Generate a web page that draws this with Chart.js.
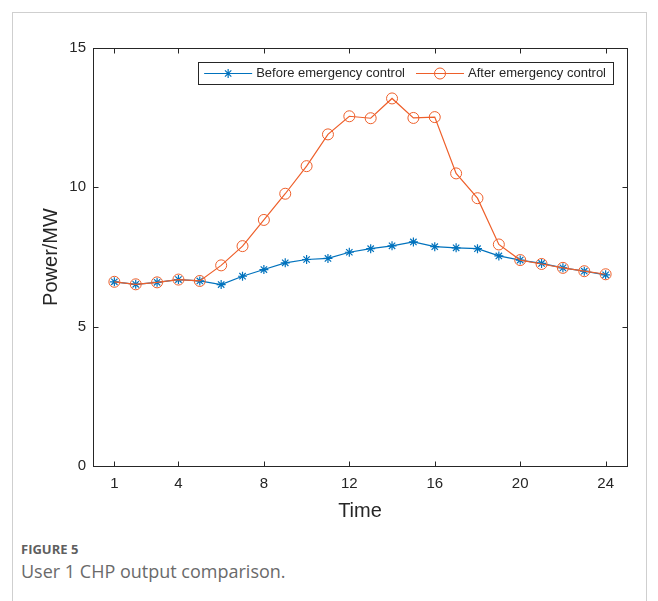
<!DOCTYPE html>
<html>
<head>
<meta charset="utf-8">
<script src="https://cdn.jsdelivr.net/npm/chart.js@4/dist/chart.umd.min.js"></script>
<style>
  html, body { margin: 0; padding: 0; background: #ffffff; }
  body { width: 658px; height: 601px; position: relative; overflow: hidden; }
  #card { position: absolute; left: 12px; top: 12px; width: 635px; height: 620px;
          border-left: 1px solid #cfcfcf; border-top: 1px solid #cfcfcf; border-right: 1px solid #cfcfcf; box-sizing: border-box; }
  #wrap { position: absolute; left: 0; top: 0; width: 658px; height: 530px; }
  #figlabel { position: absolute; left: 21px; top: 541px; font: bold 13px "Open Sans", sans-serif; line-height: 16px; color: #5f5f5f; }
  #caption { position: absolute; left: 21px; top: 560px; font: 18px "Open Sans", sans-serif; line-height: 22px; color: #6a6a6a; }
</style>
</head>
<body>
<div id="card"></div>
<div id="wrap"><canvas id="c" width="658" height="530"></canvas></div>
<div id="figlabel">FIGURE 5</div>
<div id="caption">User 1 CHP output comparison.</div>
<script>
const hours = [1,2,3,4,5,6,7,8,9,10,11,12,13,14,15,16,17,18,19,20,21,22,23,24];
const beforeControl = [6.61,6.52,6.59,6.69,6.64,6.51,6.81,7.05,7.29,7.41,7.45,7.67,7.80,7.90,8.04,7.87,7.83,7.80,7.54,7.39,7.27,7.11,6.99,6.86];
const afterControl  = [6.61,6.52,6.59,6.69,6.64,7.20,7.89,8.83,9.77,10.76,11.90,12.55,12.48,13.19,12.49,12.52,10.50,9.61,7.95,7.39,7.25,7.11,6.99,6.88];
const xTickValues = [1,4,8,12,16,20,24];
const yTickValues = [0,5,10,15];
const seriesLabels = ['Before emergency control','After emergency control'];

const BLUE = '#0072BD';
const ORANGE = '#EE5F2A';
const AXIS = '#262626';
const FONT = '"Liberation Sans", Arial, sans-serif';

const toPoints = vals => vals.map((v, i) => ({x: hours[i], y: v}));

const boxTicksPlugin = {
  id: 'boxTicks',
  afterDatasetsDraw(chart) {
    const {ctx, chartArea: a, scales: {x, y}} = chart;
    ctx.save();
    ctx.strokeStyle = AXIS;
    ctx.lineWidth = 1;
    const L = Math.round(a.left) + 0.5, R = Math.round(a.right) + 0.5;
    const T = Math.round(a.top) + 0.5, B = Math.round(a.bottom) + 0.5;
    ctx.strokeRect(L, T, R - L, B - T);
    const tl = 5;
    ctx.beginPath();
    xTickValues.forEach(v => {
      const px = Math.round(x.getPixelForValue(v)) + 0.5;
      ctx.moveTo(px, B); ctx.lineTo(px, B - tl);
      ctx.moveTo(px, T); ctx.lineTo(px, T + tl);
    });
    yTickValues.forEach(v => {
      const py = Math.round(y.getPixelForValue(v)) + 0.5;
      ctx.moveTo(L, py); ctx.lineTo(L + tl, py);
      ctx.moveTo(R, py); ctx.lineTo(R - tl, py);
    });
    ctx.stroke();
    ctx.restore();
  }
};

const legendPlugin = {
  id: 'boxLegend',
  afterDraw(chart) {
    const {ctx, chartArea: a} = chart;
    const ds = chart.data.datasets;
    ctx.save();
    ctx.font = '13px ' + FONT;
    const padL = 6, lineLen = 48, gapText = 4, gapItem = 11, padR = 7;
    const widths = ds.map(d => ctx.measureText(d.label).width);
    let total = padL;
    widths.forEach((w, i) => { total += lineLen + gapText + w + (i < ds.length - 1 ? gapItem : padR); });
    const h = 22;
    const right = a.right - 14, top = a.top + 14;
    const left = right - total;
    ctx.fillStyle = '#ffffff';
    ctx.fillRect(left, top, total, h);
    ctx.strokeStyle = AXIS;
    ctx.lineWidth = 1;
    ctx.strokeRect(Math.round(left) + 0.5, Math.round(top) + 0.5, Math.round(total), h);
    let xp = left + padL;
    const cy = top + h / 2 + 0.5;
    ds.forEach((d, i) => {
      ctx.strokeStyle = d.borderColor;
      ctx.lineWidth = d.borderWidth;
      ctx.beginPath();
      ctx.moveTo(xp, cy); ctx.lineTo(xp + lineLen, cy);
      ctx.stroke();
      ctx.strokeStyle = d.pointBorderColor;
      ctx.fillStyle = 'rgba(0,0,0,0)';
      ctx.lineWidth = d.pointBorderWidth;
      Chart.helpers.drawPoint(ctx, {pointStyle: d.pointStyle, radius: d.pointRadius, borderWidth: d.pointBorderWidth, rotation: 0}, xp + lineLen / 2, cy);
      ctx.fillStyle = AXIS;
      ctx.textBaseline = 'middle';
      ctx.textAlign = 'left';
      ctx.fillText(d.label, xp + lineLen + gapText, cy);
      xp += lineLen + gapText + widths[i] + gapItem;
    });
    ctx.restore();
  }
};

new Chart(document.getElementById('c'), {
  type: 'line',
  data: {
    datasets: [
      {
        label: seriesLabels[0],
        data: toPoints(beforeControl),
        borderColor: BLUE,
        backgroundColor: BLUE,
        borderWidth: 1.2,
        pointStyle: 'star',
        pointRadius: 4.5,
        pointBorderWidth: 1.2,
        pointBorderColor: BLUE,
        pointBackgroundColor: BLUE,
        tension: 0,
        order: 1
      },
      {
        label: seriesLabels[1],
        data: toPoints(afterControl),
        borderColor: ORANGE,
        backgroundColor: 'rgba(0,0,0,0)',
        borderWidth: 1.2,
        pointStyle: 'circle',
        pointRadius: 5.5,
        pointBorderWidth: 1,
        pointBorderColor: ORANGE,
        pointBackgroundColor: 'rgba(0,0,0,0)',
        tension: 0,
        order: 0
      }
    ]
  },
  options: {
    responsive: false,
    animation: false,
    events: [],
    layout: { padding: { left: 0, right: 31, top: 48, bottom: 0 } },
    plugins: { legend: { display: false }, tooltip: { enabled: false } },
    scales: {
      x: {
        type: 'linear',
        min: 0, max: 25,
        afterBuildTicks: s => { s.ticks = xTickValues.map(v => ({value: v})); },
        afterFit: s => { s.height = 64; },
        grid: { display: false, drawTicks: false },
        border: { display: false },
        ticks: { color: AXIS, font: { family: FONT, size: 15 }, padding: 9, maxRotation: 0, autoSkip: false },
        title: { display: true, text: 'Time', color: AXIS, font: { family: FONT, size: 20 }, padding: { top: 0, bottom: 7 } }
      },
      y: {
        type: 'linear',
        min: 0, max: 15,
        afterBuildTicks: s => { s.ticks = yTickValues.map(v => ({value: v})); },
        afterFit: s => { s.width = 93; },
        grid: { display: false, drawTicks: false },
        border: { display: false },
        ticks: { color: AXIS, font: { family: FONT, size: 15 }, padding: 7 },
        title: { display: true, text: 'Power/MW', color: AXIS, font: { family: FONT, size: 20 }, padding: { top: 39, bottom: 0 } }
      }
    }
  },
  plugins: [boxTicksPlugin, legendPlugin]
});
</script>
</body>
</html>
